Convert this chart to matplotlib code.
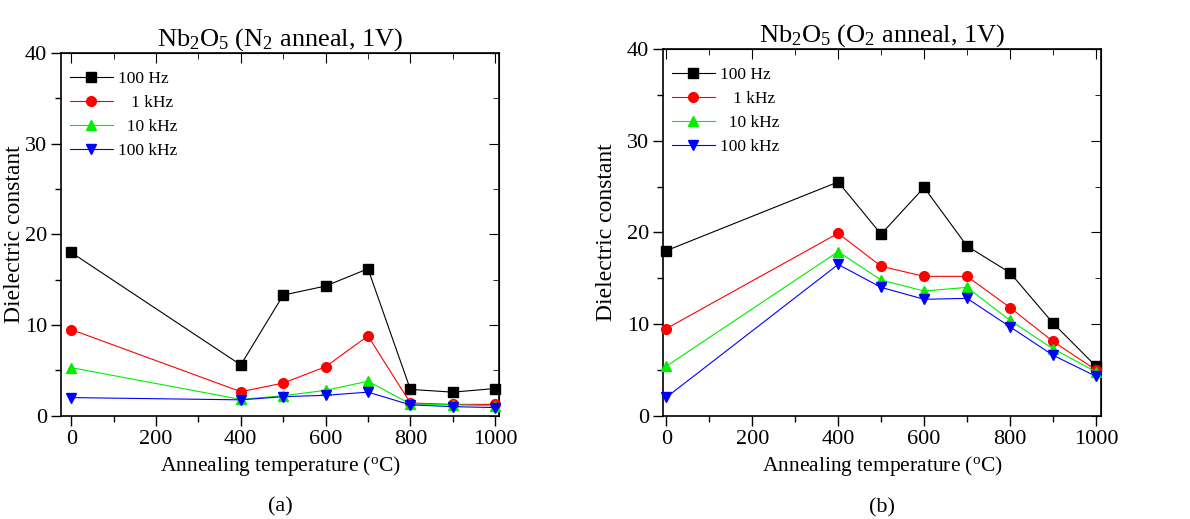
import matplotlib
matplotlib.use("Agg")
import matplotlib.pyplot as plt
from matplotlib.ticker import MultipleLocator

plt.rcParams['font.family'] = ['Liberation Serif', 'DejaVu Serif']
plt.rcParams['mathtext.fontset'] = 'custom'
plt.rcParams['mathtext.rm'] = 'Liberation Serif'
plt.rcParams['mathtext.it'] = 'Liberation Serif:italic'

# annealing temperatures (0 = as deposited)
temps = [0, 400, 500, 600, 700, 800, 900, 1000]

# (a) N2 anneal
n2_100hz = [18.0, 5.6, 13.3, 14.3, 16.2, 2.9, 2.6, 3.0]
n2_1khz = [9.5, 2.65, 3.6, 5.4, 8.8, 1.4, 1.25, 1.25]
n2_10khz = [5.3, 1.8, 2.2, 2.8, 3.8, 1.3, 1.2, 1.1]
n2_100khz = [2.0, 1.75, 2.1, 2.25, 2.6, 1.2, 1.0, 0.9]

# (b) O2 anneal
o2_100hz = [18.0, 25.5, 19.8, 24.9, 18.5, 15.6, 10.1, 5.4]
o2_1khz = [9.5, 19.9, 16.3, 15.2, 15.2, 11.8, 8.1, 5.0]
o2_10khz = [5.4, 17.9, 14.8, 13.6, 14.0, 10.4, 7.3, 4.8]
o2_100khz = [2.0, 16.5, 14.0, 12.7, 12.8, 9.7, 6.6, 4.3]

labels = ['100 Hz', '   1 kHz', '  10 kHz', '100 kHz']
colors = ['black', 'red', '#00ee00', 'blue']
markers = ['s', 'o', '^', 'v']


def draw_panel(ax, series, title, xlim, sublabel, ylab_x):
    for vals, lab, col, mk in zip(series, labels, colors, markers):
        ax.plot(temps, vals, color=col, marker=mk, markersize=7,
                linewidth=0.8, label=lab, clip_on=False, zorder=3)
    ax.set_xlim(*xlim)
    ax.set_ylim(0, 40)
    ax.xaxis.set_major_locator(MultipleLocator(200))
    ax.xaxis.set_minor_locator(MultipleLocator(100))
    ax.yaxis.set_major_locator(MultipleLocator(10))
    ax.yaxis.set_minor_locator(MultipleLocator(5))
    ax.tick_params(which='both', direction='out', top=False, right=False, labelsize=16)
    ax.tick_params(which='major', length=7, width=1, pad=3)
    ax.tick_params(which='minor', length=4, width=1)
    # mirrored inward ticks on top / right
    ax2 = ax.secondary_xaxis('top')
    ax2.xaxis.set_major_locator(MultipleLocator(200))
    ax2.xaxis.set_minor_locator(MultipleLocator(100))
    ax2.tick_params(which='both', direction='in', labeltop=False)
    ax2.tick_params(which='major', length=7)
    ax2.tick_params(which='minor', length=4)
    ax3 = ax.secondary_yaxis('right')
    ax3.yaxis.set_major_locator(MultipleLocator(10))
    ax3.yaxis.set_minor_locator(MultipleLocator(5))
    ax3.tick_params(which='both', direction='in', labelright=False)
    ax3.tick_params(which='major', length=7)
    ax3.tick_params(which='minor', length=4)
    for s in ax.spines.values():
        s.set_linewidth(1.2)
    ax.set_title(title, fontsize=19, pad=5)
    ax.set_xlabel(r'Annealing temperature ($^{\rm o}$C)', fontsize=15.5, labelpad=4)
    ax.set_ylabel('Dielectric constant', fontsize=17)
    ax.yaxis.set_label_coords(ylab_x, 0.5)
    ax.legend(loc='upper left', bbox_to_anchor=(0.0, 0.975), frameon=False,
              fontsize=12.5, handlelength=2.5, handletextpad=0.3,
              labelspacing=0.45, borderaxespad=0.0, borderpad=0.5)
    ax.text(0.5, -0.25, sublabel, transform=ax.transAxes, ha='center',
            va='center', fontsize=16)


fig = plt.figure(figsize=(11.9, 5.19), dpi=100)
ax_a = fig.add_axes([0.0513, 0.199, 0.368, 0.699])
ax_b = fig.add_axes([0.557, 0.199, 0.3683, 0.7066])

draw_panel(ax_a, [n2_100hz, n2_1khz, n2_10khz, n2_100khz],
           r'Nb$_2$O$_5$ (N$_2$ anneal, 1V)', (-24, 1009), '(a)', -0.083)
draw_panel(ax_b, [o2_100hz, o2_1khz, o2_10khz, o2_100khz],
           r'Nb$_2$O$_5$ (O$_2$ anneal, 1V)', (-8, 1012), '(b)', -0.105)

fig.savefig('out.png', dpi=100)
